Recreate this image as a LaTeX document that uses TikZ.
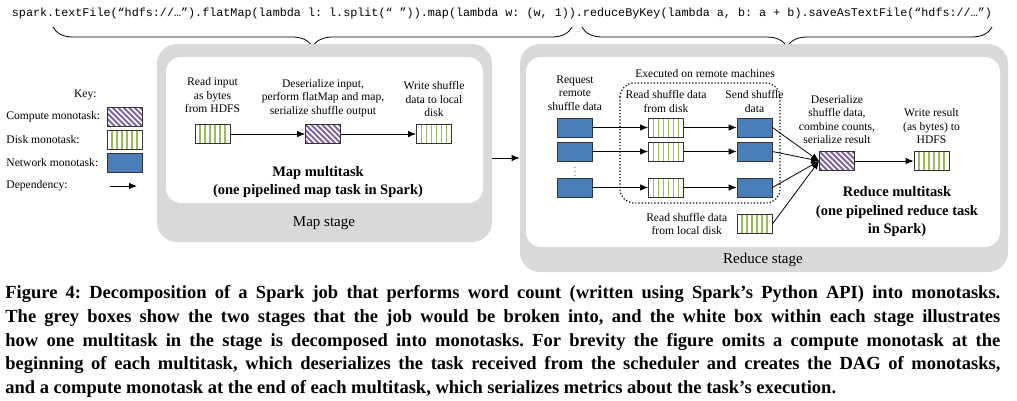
\documentclass[tikz,border=0pt]{standalone}
\usepackage{fontspec}
\setmainfont{Liberation Serif}
\setmonofont{Liberation Mono}
\usetikzlibrary{calc}
\usetikzlibrary{arrows.meta}
\usetikzlibrary{decorations.pathreplacing}
\usetikzlibrary{positioning}

\definecolor{netblue}{HTML}{4A7EBB}
\definecolor{cpupurple}{HTML}{8064A2}
\definecolor{diskgreen}{HTML}{9BBB59}
\definecolor{stagegray}{HTML}{D9D9D9}

\tikzset{
	mono/.style={
		draw=black!80,
		line width=0.8pt,
		rectangle,
		inner sep=0mm,
		minimum width=35pt,
		minimum height=19pt
	},
	netbox/.style={mono, fill=netblue},
	diskbox/.style={
		mono,
		fill=white,
		path picture={
			\foreach \k in {1,...,6}
				\draw[diskgreen, line width=1.2pt]
					([xshift=\k*5pt]path picture bounding box.north west) --
					([xshift=\k*5pt]path picture bounding box.south west);
		}
	},
	cpubox/.style={
		mono,
		fill=white,
		path picture={
			\foreach \k in {-5,...,8}
				\draw[cpupurple, line width=1.8pt]
					([xshift=\k*5.5pt]path picture bounding box.north west) -- ++(24pt,-24pt);
		}
	},
	stage/.style={fill=stagegray, rounded corners=20pt, inner sep=0pt},
	inner/.style={fill=white, rounded corners=15pt, inner sep=0pt},
	lbl/.style={font=\fontsize{11.6}{13.5}\selectfont, align=center, inner sep=0pt},
	keylbl/.style={font=\fontsize{11.6}{13.5}\selectfont, inner sep=0pt},
	title/.style={font=\fontsize{14.5}{18.5}\selectfont\bfseries, align=center, inner sep=0pt},
	stagelbl/.style={font=\fontsize{15}{18}\selectfont, inner sep=0pt},
	code/.style={font=\fontsize{11.75}{14}\selectfont\ttfamily, inner sep=0pt},
	brace/.style={decorate, decoration={brace, mirror, amplitude=20pt}, line width=0.8pt},
	caption/.style={font=\fontsize{18.5}{23.8}\selectfont\bfseries\frenchspacing, align=justify, text width=995pt, inner sep=0pt}
}

\begin{document}
\begin{tikzpicture}[
		x=1pt, y=-1pt,
		>={Latex[length=8pt,width=6.5pt]},
		line width=0.8pt,
	]

	% The canvas
	\useasboundingbox (0,0) rectangle (1017,400);

	% Draw the job and its two stages
	\node[code] (job) at (502,13)
		{spark.textFile(“hdfs://…”).flatMap(lambda l: l.split(“ ”)).map(lambda w: (w, 1)).reduceByKey(lambda a, b: a + b).saveAsTextFile(“hdfs://…”)};
	\coordinate (mapl) at (53,27);
	\coordinate (mapr) at (572,27);
	\coordinate (redl) at (582,27);
	\coordinate (redr) at (992,27);
	\draw[brace] (mapl) -- (mapr);
	\draw[brace] (redl) -- (redr);

	% Draw the key
	\node[keylbl, anchor=east] (keyhead) at (97,95) {Key:};
	\node[keylbl, anchor=west] (keycpu) at (6,117) {Compute monotask:};
	\node[cpubox] (kcpu) at (124.5,117) {};
	\node[keylbl, anchor=west] (keydisk) at (6,140) {Disk monotask:};
	\node[diskbox] (kdisk) at (124.5,140) {};
	\node[keylbl, anchor=west] (keynet) at (6,163) {Network monotask:};
	\node[netbox] (knet) at (124.5,163) {};
	\node[keylbl, anchor=west] (keydep) at (6,186) {Dependency:};
	\coordinate (kdepa) at (110,186);
	\coordinate (kdepb) at (137,186);
	\draw[->] (kdepa) -- (kdepb);

	% Draw the map stage
	\node[stage, minimum width=335pt, minimum height=198pt] (mapstage) at (324.5,143) {};
	\node[inner, minimum width=317pt, minimum height=146pt] (mapinner) at (324.5,130) {};
	\node[stagelbl] (maplbl) at (324,223) {Map stage};

	\node[diskbox] (m1) at (212.5,134) {};
	\node[cpubox] (m2) at (323,134) {};
	\node[diskbox] (m3) at (434,134) {};
	\node[lbl, above=11pt of m1] (m1lbl) {Read input\\as bytes\\from HDFS};
	\node[lbl, above=7pt of m2] (m2lbl) {Deserialize input,\\perform flatMap and map,\\serialize shuffle output};
	\node[lbl, above=7pt of m3] (m3lbl) {Write shuffle\\data to local\\disk};
	\draw[->] (m1) -- (m2);
	\draw[->] (m2) -- (m3);
	\node[title] (maptitle) at (318,182) {Map multitask\\(one pipelined map task in Spark)};

	% Draw the reduce stage
	\node[stage, minimum width=488pt, minimum height=228pt] (redstage) at (764,158) {};
	\node[inner, minimum width=474pt, minimum height=190pt] (redinner) at (763,152) {};
	\node[stagelbl] (redlbl) at (763,260) {Reduce stage};

	\draw[->] (mapstage.east |- redstage.west) -- (redstage.west);

	% Remote machines
	\draw[dotted, line width=1.2pt, rounded corners=14pt] (620,83) rectangle (780,203);
	\node[lbl] (remote) at (705,74) {Executed on remote machines};

	\foreach \n/\y in {a/127.5, b/151.5, c/187.5} {
		\node[netbox] (q\n) at (575,\y) {};
		\node[diskbox] (d\n) at (666,\y) {};
		\node[netbox] (s\n) at (754.5,\y) {};
	}
	\node[font=\fontsize{8}{8}\selectfont, inner sep=0pt] (qdots) at (575,169) {$\vdots$};

	\node[diskbox] (local) at (754.5,224) {};
	\node[cpubox] (rc) at (837,161) {};
	\node[diskbox] (rw) at (931.5,161) {};

	\node[lbl, above=7pt of qa] (qlbl) {Request\\remote\\shuffle data};
	\node[lbl, above=5pt of da] (dlbl) {Read shuffle data\\from disk};
	\node[lbl, above=5pt of sa] (slbl) {Send shuffle\\data};
	\node[lbl, above=7pt of rc] (rclbl) {Deserialize\\shuffle data,\\combine counts,\\serialize result};
	\node[lbl, above=7pt of rw] (rwlbl) {Write result\\(as bytes) to\\HDFS};
	\node[lbl, left=9pt of local] (locallbl) {Read shuffle data\\from local disk};

	\foreach \n in {a,b,c} {
		\draw[->] (q\n) -- (d\n);
		\draw[->] (d\n) -- (s\n);
		\draw[->] (s\n.east) -- (rc.west);
	}
	\draw[->] (local.east) -- (rc.west);
	\draw[->] (rc) -- (rw);

	\node[title] (redtitle) at (897,212) {Reduce multitask\\(one pipelined reduce task\\in Spark)};

	% The caption
	\node[caption, anchor=north west] (figcap) at (5,285)
		{Figure 4: Decomposition of a Spark job that performs word count (written using Spark’s Python API) into monotasks.\linebreak
		The grey boxes show the two stages that the job would be broken into, and the white box within each stage illustrates\linebreak
		how one multitask in the stage is decomposed into monotasks. For brevity the figure omits a compute monotask at the\linebreak
		beginning of each multitask, which deserializes the task received from the scheduler and creates the DAG of monotasks,\linebreak
		and a compute monotask at the end of each multitask, which serializes metrics about the task’s execution.};

\end{tikzpicture}
\end{document}
